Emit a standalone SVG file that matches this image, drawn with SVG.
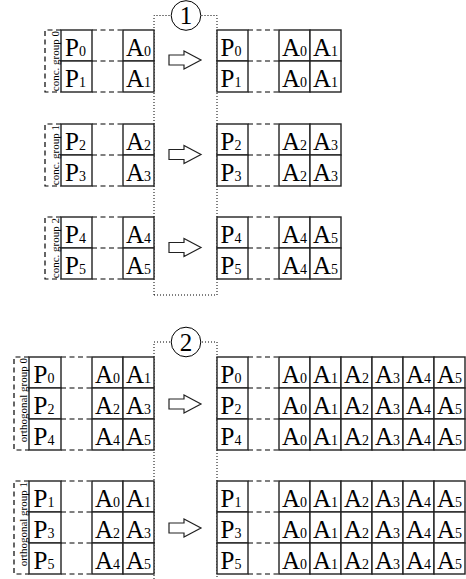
<svg xmlns="http://www.w3.org/2000/svg" width="466" height="579" viewBox="0 0 466 579">
<style>
.cell{fill:#fff;stroke:#222;stroke-width:1.4}
.dash{fill:none;stroke:#000;stroke-width:1.2;stroke-dasharray:5,3.5}
.dot{fill:none;stroke:#000;stroke-width:1;stroke-dasharray:1,2}
.t{font-family:"Liberation Serif","Times New Roman",serif;font-size:25px;fill:#000;text-anchor:middle}
.s{font-size:14px}
.lbl{font-family:"Liberation Serif","Times New Roman",serif;font-size:11px;fill:#000;text-anchor:end}
.arr{fill:#fff;stroke:#222;stroke-width:1.2}
.circ{fill:#fff;stroke:#000;stroke-width:1}
.num{font-family:"Liberation Serif","Times New Roman",serif;font-size:25px;fill:#000;text-anchor:middle}
</style>
<g id="frames">
<path class="dot" d="M154 295 V15.5 H217 V295 H154"/>
<path class="dot" d="M154 600 V342 H217 V600"/>
</g>
<g id="step1">
<circle class="circ" cx="186" cy="15.5" r="14.8"/>
<text class="num" x="186" y="24">1</text>
</g>
<g id="step2">
<circle class="circ" cx="186" cy="342" r="14.8"/>
<text class="num" x="186" y="350.5">2</text>
</g>

<g id="conc-left-0">
<path class="dash" d="M61 30 H45 V92 H61 M92 30 H123 M92 61 H123 M92 92 H123"/>
<rect class="cell" x="61" y="30" width="31" height="31"/><rect class="cell" x="61" y="61" width="31" height="31"/>
<rect class="cell" x="123" y="30" width="31" height="31"/><rect class="cell" x="123" y="61" width="31" height="31"/>
<text class="lbl" transform="translate(58.5,31) rotate(-90)">conc. group 0</text>
<text class="t" x="75.5" y="56">P<tspan class="s">0</tspan></text>
<text class="t" x="75.5" y="87">P<tspan class="s">1</tspan></text>
<text class="t" x="138.5" y="56">A<tspan class="s">0</tspan></text>
<text class="t" x="138.5" y="87">A<tspan class="s">1</tspan></text>
</g>
<g id="conc-left-1">
<path class="dash" d="M61 124 H45 V186 H61 M92 124 H123 M92 155 H123 M92 186 H123"/>
<rect class="cell" x="61" y="124" width="31" height="31"/><rect class="cell" x="61" y="155" width="31" height="31"/>
<rect class="cell" x="123" y="124" width="31" height="31"/><rect class="cell" x="123" y="155" width="31" height="31"/>
<text class="lbl" transform="translate(58.5,125) rotate(-90)">conc. group 1</text>
<text class="t" x="75.5" y="150">P<tspan class="s">2</tspan></text>
<text class="t" x="75.5" y="181">P<tspan class="s">3</tspan></text>
<text class="t" x="138.5" y="150">A<tspan class="s">2</tspan></text>
<text class="t" x="138.5" y="181">A<tspan class="s">3</tspan></text>
</g>
<g id="conc-left-2">
<path class="dash" d="M61 217 H45 V279 H61 M92 217 H123 M92 248 H123 M92 279 H123"/>
<rect class="cell" x="61" y="217" width="31" height="31"/><rect class="cell" x="61" y="248" width="31" height="31"/>
<rect class="cell" x="123" y="217" width="31" height="31"/><rect class="cell" x="123" y="248" width="31" height="31"/>
<text class="lbl" transform="translate(58.5,218) rotate(-90)">conc. group 2</text>
<text class="t" x="75.5" y="243">P<tspan class="s">4</tspan></text>
<text class="t" x="75.5" y="274">P<tspan class="s">5</tspan></text>
<text class="t" x="138.5" y="243">A<tspan class="s">4</tspan></text>
<text class="t" x="138.5" y="274">A<tspan class="s">5</tspan></text>
</g>

<g id="conc-right-0">
<path class="dash" d="M248 30 H279 M248 61 H279 M248 92 H279"/>
<rect class="cell" x="217" y="30" width="31" height="31"/><rect class="cell" x="217" y="61" width="31" height="31"/>
<rect class="cell" x="279" y="30" width="31" height="31"/><rect class="cell" x="310" y="30" width="31" height="31"/>
<rect class="cell" x="279" y="61" width="31" height="31"/><rect class="cell" x="310" y="61" width="31" height="31"/>
<text class="t" x="231" y="56">P<tspan class="s">0</tspan></text>
<text class="t" x="231" y="87">P<tspan class="s">1</tspan></text>
<text class="t" x="294.5" y="56">A<tspan class="s">0</tspan></text>
<text class="t" x="325.5" y="56">A<tspan class="s">1</tspan></text>
<text class="t" x="294.5" y="87">A<tspan class="s">0</tspan></text>
<text class="t" x="325.5" y="87">A<tspan class="s">1</tspan></text>
</g>
<g id="conc-right-1">
<path class="dash" d="M248 124 H279 M248 155 H279 M248 186 H279"/>
<rect class="cell" x="217" y="124" width="31" height="31"/><rect class="cell" x="217" y="155" width="31" height="31"/>
<rect class="cell" x="279" y="124" width="31" height="31"/><rect class="cell" x="310" y="124" width="31" height="31"/>
<rect class="cell" x="279" y="155" width="31" height="31"/><rect class="cell" x="310" y="155" width="31" height="31"/>
<text class="t" x="231" y="150">P<tspan class="s">2</tspan></text>
<text class="t" x="231" y="181">P<tspan class="s">3</tspan></text>
<text class="t" x="294.5" y="150">A<tspan class="s">2</tspan></text>
<text class="t" x="325.5" y="150">A<tspan class="s">3</tspan></text>
<text class="t" x="294.5" y="181">A<tspan class="s">2</tspan></text>
<text class="t" x="325.5" y="181">A<tspan class="s">3</tspan></text>
</g>
<g id="conc-right-2">
<path class="dash" d="M248 217 H279 M248 248 H279 M248 279 H279"/>
<rect class="cell" x="217" y="217" width="31" height="31"/><rect class="cell" x="217" y="248" width="31" height="31"/>
<rect class="cell" x="279" y="217" width="31" height="31"/><rect class="cell" x="310" y="217" width="31" height="31"/>
<rect class="cell" x="279" y="248" width="31" height="31"/><rect class="cell" x="310" y="248" width="31" height="31"/>
<text class="t" x="231" y="243">P<tspan class="s">4</tspan></text>
<text class="t" x="231" y="274">P<tspan class="s">5</tspan></text>
<text class="t" x="294.5" y="243">A<tspan class="s">4</tspan></text>
<text class="t" x="325.5" y="243">A<tspan class="s">5</tspan></text>
<text class="t" x="294.5" y="274">A<tspan class="s">4</tspan></text>
<text class="t" x="325.5" y="274">A<tspan class="s">5</tspan></text>
</g>

<g id="orth-left-0">
<path class="dash" d="M29 357 H14 V450 H29 M61 357 H92 M61 388 H92 M61 419 H92 M61 450 H92"/>
<rect class="cell" x="29" y="357" width="32" height="31"/><rect class="cell" x="29" y="388" width="32" height="31"/><rect class="cell" x="29" y="419" width="32" height="31"/>
<rect class="cell" x="92" y="357" width="31" height="31"/><rect class="cell" x="123" y="357" width="31" height="31"/>
<rect class="cell" x="92" y="388" width="31" height="31"/><rect class="cell" x="123" y="388" width="31" height="31"/>
<rect class="cell" x="92" y="419" width="31" height="31"/><rect class="cell" x="123" y="419" width="31" height="31"/>
<text class="lbl" transform="translate(26.5,358) rotate(-90)">orthogonal group 0</text>
<text class="t" x="44" y="383">P<tspan class="s">0</tspan></text>
<text class="t" x="44" y="414">P<tspan class="s">2</tspan></text>
<text class="t" x="44" y="445">P<tspan class="s">4</tspan></text>
<text class="t" x="107.5" y="383">A<tspan class="s">0</tspan></text>
<text class="t" x="138.5" y="383">A<tspan class="s">1</tspan></text>
<text class="t" x="107.5" y="414">A<tspan class="s">2</tspan></text>
<text class="t" x="138.5" y="414">A<tspan class="s">3</tspan></text>
<text class="t" x="107.5" y="445">A<tspan class="s">4</tspan></text>
<text class="t" x="138.5" y="445">A<tspan class="s">5</tspan></text>
</g>
<g id="orth-left-1">
<path class="dash" d="M29 481 H14 V574 H29 M61 481 H92 M61 512 H92 M61 543 H92 M61 574 H92"/>
<rect class="cell" x="29" y="481" width="32" height="31"/><rect class="cell" x="29" y="512" width="32" height="31"/><rect class="cell" x="29" y="543" width="32" height="31"/>
<rect class="cell" x="92" y="481" width="31" height="31"/><rect class="cell" x="123" y="481" width="31" height="31"/>
<rect class="cell" x="92" y="512" width="31" height="31"/><rect class="cell" x="123" y="512" width="31" height="31"/>
<rect class="cell" x="92" y="543" width="31" height="31"/><rect class="cell" x="123" y="543" width="31" height="31"/>
<text class="lbl" transform="translate(26.5,482) rotate(-90)">orthogonal group 1</text>
<text class="t" x="44" y="507">P<tspan class="s">1</tspan></text>
<text class="t" x="44" y="538">P<tspan class="s">3</tspan></text>
<text class="t" x="44" y="569">P<tspan class="s">5</tspan></text>
<text class="t" x="107.5" y="507">A<tspan class="s">0</tspan></text>
<text class="t" x="138.5" y="507">A<tspan class="s">1</tspan></text>
<text class="t" x="107.5" y="538">A<tspan class="s">2</tspan></text>
<text class="t" x="138.5" y="538">A<tspan class="s">3</tspan></text>
<text class="t" x="107.5" y="569">A<tspan class="s">4</tspan></text>
<text class="t" x="138.5" y="569">A<tspan class="s">5</tspan></text>
</g>

<g id="orth-right-0">
<path class="dash" d="M248 357 H279 M248 388 H279 M248 419 H279 M248 450 H279"/>
<rect class="cell" x="217" y="357" width="31" height="31"/><rect class="cell" x="217" y="388" width="31" height="31"/><rect class="cell" x="217" y="419" width="31" height="31"/>
<rect class="cell" x="279" y="357" width="31" height="31"/><rect class="cell" x="310" y="357" width="31" height="31"/><rect class="cell" x="341" y="357" width="31" height="31"/><rect class="cell" x="372" y="357" width="31" height="31"/><rect class="cell" x="403" y="357" width="31" height="31"/><rect class="cell" x="434" y="357" width="31" height="31"/>
<rect class="cell" x="279" y="388" width="31" height="31"/><rect class="cell" x="310" y="388" width="31" height="31"/><rect class="cell" x="341" y="388" width="31" height="31"/><rect class="cell" x="372" y="388" width="31" height="31"/><rect class="cell" x="403" y="388" width="31" height="31"/><rect class="cell" x="434" y="388" width="31" height="31"/>
<rect class="cell" x="279" y="419" width="31" height="31"/><rect class="cell" x="310" y="419" width="31" height="31"/><rect class="cell" x="341" y="419" width="31" height="31"/><rect class="cell" x="372" y="419" width="31" height="31"/><rect class="cell" x="403" y="419" width="31" height="31"/><rect class="cell" x="434" y="419" width="31" height="31"/>
<text class="t" x="231" y="383">P<tspan class="s">0</tspan></text>
<text class="t" x="231" y="414">P<tspan class="s">2</tspan></text>
<text class="t" x="231" y="445">P<tspan class="s">4</tspan></text>
<text class="t" x="294.5" y="383">A<tspan class="s">0</tspan></text><text class="t" x="325.5" y="383">A<tspan class="s">1</tspan></text><text class="t" x="356.5" y="383">A<tspan class="s">2</tspan></text><text class="t" x="387.5" y="383">A<tspan class="s">3</tspan></text><text class="t" x="418.5" y="383">A<tspan class="s">4</tspan></text><text class="t" x="449.5" y="383">A<tspan class="s">5</tspan></text>
<text class="t" x="294.5" y="414">A<tspan class="s">0</tspan></text><text class="t" x="325.5" y="414">A<tspan class="s">1</tspan></text><text class="t" x="356.5" y="414">A<tspan class="s">2</tspan></text><text class="t" x="387.5" y="414">A<tspan class="s">3</tspan></text><text class="t" x="418.5" y="414">A<tspan class="s">4</tspan></text><text class="t" x="449.5" y="414">A<tspan class="s">5</tspan></text>
<text class="t" x="294.5" y="445">A<tspan class="s">0</tspan></text><text class="t" x="325.5" y="445">A<tspan class="s">1</tspan></text><text class="t" x="356.5" y="445">A<tspan class="s">2</tspan></text><text class="t" x="387.5" y="445">A<tspan class="s">3</tspan></text><text class="t" x="418.5" y="445">A<tspan class="s">4</tspan></text><text class="t" x="449.5" y="445">A<tspan class="s">5</tspan></text>
</g>
<g id="orth-right-1">
<path class="dash" d="M248 481 H279 M248 512 H279 M248 543 H279 M248 574 H279"/>
<rect class="cell" x="217" y="481" width="31" height="31"/><rect class="cell" x="217" y="512" width="31" height="31"/><rect class="cell" x="217" y="543" width="31" height="31"/>
<rect class="cell" x="279" y="481" width="31" height="31"/><rect class="cell" x="310" y="481" width="31" height="31"/><rect class="cell" x="341" y="481" width="31" height="31"/><rect class="cell" x="372" y="481" width="31" height="31"/><rect class="cell" x="403" y="481" width="31" height="31"/><rect class="cell" x="434" y="481" width="31" height="31"/>
<rect class="cell" x="279" y="512" width="31" height="31"/><rect class="cell" x="310" y="512" width="31" height="31"/><rect class="cell" x="341" y="512" width="31" height="31"/><rect class="cell" x="372" y="512" width="31" height="31"/><rect class="cell" x="403" y="512" width="31" height="31"/><rect class="cell" x="434" y="512" width="31" height="31"/>
<rect class="cell" x="279" y="543" width="31" height="31"/><rect class="cell" x="310" y="543" width="31" height="31"/><rect class="cell" x="341" y="543" width="31" height="31"/><rect class="cell" x="372" y="543" width="31" height="31"/><rect class="cell" x="403" y="543" width="31" height="31"/><rect class="cell" x="434" y="543" width="31" height="31"/>
<text class="t" x="231" y="507">P<tspan class="s">1</tspan></text>
<text class="t" x="231" y="538">P<tspan class="s">3</tspan></text>
<text class="t" x="231" y="569">P<tspan class="s">5</tspan></text>
<text class="t" x="294.5" y="507">A<tspan class="s">0</tspan></text><text class="t" x="325.5" y="507">A<tspan class="s">1</tspan></text><text class="t" x="356.5" y="507">A<tspan class="s">2</tspan></text><text class="t" x="387.5" y="507">A<tspan class="s">3</tspan></text><text class="t" x="418.5" y="507">A<tspan class="s">4</tspan></text><text class="t" x="449.5" y="507">A<tspan class="s">5</tspan></text>
<text class="t" x="294.5" y="538">A<tspan class="s">0</tspan></text><text class="t" x="325.5" y="538">A<tspan class="s">1</tspan></text><text class="t" x="356.5" y="538">A<tspan class="s">2</tspan></text><text class="t" x="387.5" y="538">A<tspan class="s">3</tspan></text><text class="t" x="418.5" y="538">A<tspan class="s">4</tspan></text><text class="t" x="449.5" y="538">A<tspan class="s">5</tspan></text>
<text class="t" x="294.5" y="569">A<tspan class="s">0</tspan></text><text class="t" x="325.5" y="569">A<tspan class="s">1</tspan></text><text class="t" x="356.5" y="569">A<tspan class="s">2</tspan></text><text class="t" x="387.5" y="569">A<tspan class="s">3</tspan></text><text class="t" x="418.5" y="569">A<tspan class="s">4</tspan></text><text class="t" x="449.5" y="569">A<tspan class="s">5</tspan></text>
</g>

<g id="connectors">
<polygon class="arr" points="169,55 184,55 184,51 201,60 184,69 184,65 169,65"/>
<polygon class="arr" points="169,149.5 184,149.5 184,145.5 201,154.5 184,163.5 184,159.5 169,159.5"/>
<polygon class="arr" points="169,242.5 184,242.5 184,238.5 201,247.5 184,256.5 184,252.5 169,252.5"/>
<polygon class="arr" points="169,399 184,399 184,395 201,404 184,413 184,409 169,409"/>
<polygon class="arr" points="169,523 184,523 184,519 201,528 184,537 184,533 169,533"/>
</g>
</svg>
